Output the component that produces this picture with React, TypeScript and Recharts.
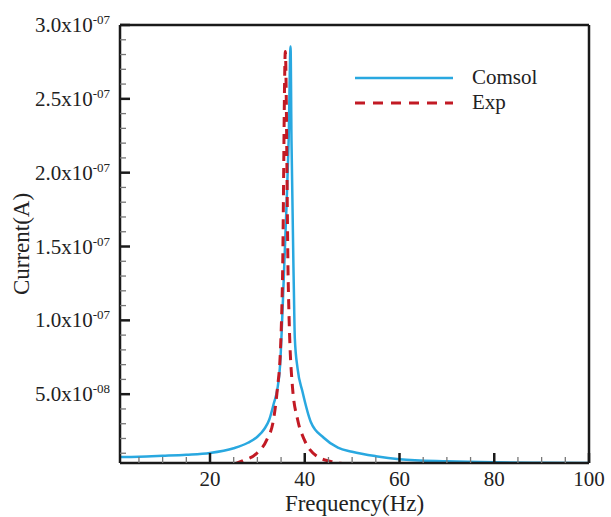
import { Label, Legend, Line, LineChart, ReferenceLine, XAxis, YAxis } from "recharts";

// Comsol simulation (frequency in Hz, current in A)
const comsolFreq = [
  1, 5, 10, 15, 20, 25, 28, 30, 31.5, 32.5, 33.5, 34.2, 34.8, 35.4, 36.2, 36.6, 37.0,
  37.2, 37.7, 37.9, 38.5, 39.5, 41.3, 44, 47, 50, 55, 60, 70, 80, 90, 100,
];
const comsolCurrent = [
  7.5e-9, 7.7e-9, 8.3e-9, 9.0e-9, 1.02e-8, 1.34e-8, 1.71e-8, 2.12e-8, 2.66e-8, 3.27e-8,
  4.42e-8, 5.3e-8, 7.0e-8, 1.14e-7, 1.82e-7, 2.22e-7, 2.854e-7, 2.22e-7, 1.21e-7, 8.8e-8,
  6.7e-8, 5.2e-8, 3.1e-8, 2.05e-8, 1.38e-8, 1.1e-8, 8.0e-9, 6.0e-9, 4.6e-9, 3.9e-9, 3.6e-9,
  3.4e-9,
];

// Experiment
const expFreq = [
  25, 27, 30, 32, 33.4, 34.2, 34.9, 35.3, 35.9, 36.5, 36.7, 37.4, 38.5, 39.9, 42.7, 45.5, 48, 50,
];
const expCurrent = [
  2.5e-9, 5.0e-9, 1.04e-8, 1.92e-8, 3.27e-8, 5.3e-8, 8.22e-8, 1.276e-7, 2.82e-7, 1.276e-7,
  1.005e-7, 5.51e-8, 3.27e-8, 1.92e-8, 7.7e-9, 4.5e-9, 3.0e-9, 2.0e-9,
];

const xMajorTicks = [20, 40, 60, 80, 100];
const xMinorStep = 5;
const yMajorTicks = [5e-8, 1e-7, 1.5e-7, 2e-7, 2.5e-7, 3e-7];
const yMantissa = ["5.0", "1.0", "1.5", "2.0", "2.5", "3.0"];
const yExponent = ["-08", "-07", "-07", "-07", "-07", "-07"];

const comsolData = comsolFreq.map((f, i) => ({ freq: f, current: comsolCurrent[i] }));
const expData = expFreq.map((f, i) => ({ freq: f, current: expCurrent[i] }));

const xTicks = Array.from({ length: 20 }, (_, i) => (i + 1) * xMinorStep);
const yTicks = Array.from({ length: 30 }, (_, i) => (i + 1) / 1e8);

const FONT = "'Liberation Serif', 'Times New Roman', serif";
const BLUE = "#29A8E0";
const RED = "#C21A24";
const AXIS = "#1a1a1a";

function XTick(props: any) {
  const { x, y, payload } = props;
  const idx = xMajorTicks.indexOf(payload.value);
  if (idx < 0) {
    return <line x1={x} x2={x} y1={y} y2={y - 6} stroke="#777" strokeWidth={1.3} />;
  }
  return (
    <g>
      <line x1={x} x2={x} y1={y} y2={y - 10} stroke={AXIS} strokeWidth={2.5} />
      <text x={x} y={y + 23} textAnchor="middle" fontFamily={FONT} fontSize={21} fill="#222">
        {payload.value}
      </text>
    </g>
  );
}

function YTick(props: any) {
  const { x, y, payload } = props;
  const idx = yMajorTicks.findIndex((t) => Math.abs(t - payload.value) < 1e-12);
  if (idx < 0) {
    return <line x1={x} x2={x + 6} y1={y} y2={y} stroke="#777" strokeWidth={1.3} />;
  }
  return (
    <g>
      <line x1={x} x2={x + 10} y1={y} y2={y} stroke={AXIS} strokeWidth={2.5} />
      <text x={x - 10} y={y + 7} textAnchor="end" fontFamily={FONT} fontSize={21} fill="#222">
        {yMantissa[idx]}x10
        <tspan dy={-8} fontSize={13}>
          {yExponent[idx]}
        </tspan>
      </text>
    </g>
  );
}

function LegendBox() {
  const row = { display: "flex", alignItems: "center", height: 25 } as const;
  const txt = { marginLeft: 17, fontFamily: FONT, fontSize: 21, color: "#222", lineHeight: "25px" };
  return (
    <div>
      <div style={row}>
        <svg width={100} height={6}>
          <line x1={0} x2={98} y1={3} y2={3} stroke={BLUE} strokeWidth={2.5} />
        </svg>
        <span style={txt}>Comsol</span>
      </div>
      <div style={row}>
        <svg width={100} height={6}>
          <line x1={0} x2={98} y1={3} y2={3} stroke={RED} strokeWidth={3} strokeDasharray="10 8" />
        </svg>
        <span style={txt}>Exp</span>
      </div>
    </div>
  );
}

export default function App() {
  return (
    <div style={{ position: "absolute", left: 0, top: 0, width: 611, height: 517, background: "#fff" }}>
      <LineChart width={611} height={517} margin={{ top: 25, right: 22, bottom: 0, left: 0 }}>
        <XAxis
          dataKey="freq"
          type="number"
          domain={[1, 100]}
          ticks={xTicks}
          interval={0}
          allowDataOverflow
          height={54}
          tickSize={0}
          tickMargin={0}
          tickLine={false}
          tick={<XTick />}
          axisLine={{ stroke: AXIS, strokeWidth: 2.5 }}
        >
          <Label
            value="Frequency(Hz)"
            position="insideBottom"
            offset={6}
            style={{ fontFamily: FONT, fontSize: 23, fill: "#222" }}
          />
        </XAxis>
        <YAxis
          type="number"
          domain={[3.4e-9, 3e-7]}
          ticks={yTicks}
          interval={0}
          allowDataOverflow
          width={120}
          tickSize={0}
          tickMargin={0}
          tickLine={false}
          tick={<YTick />}
          axisLine={{ stroke: AXIS, strokeWidth: 2.5 }}
        >
          <Label
            content={(p: any) => {
              const vb = p.viewBox || { x: 0, y: 25, width: 120, height: 438 };
              return (
                <text
                  transform={`translate(${vb.x + 29},${vb.y + vb.height / 2}) rotate(-90)`}
                  textAnchor="middle"
                  fontFamily={FONT}
                  fontSize={23}
                  fill="#222"
                >
                  Current(A)
                </text>
              );
            }}
          />
        </YAxis>
        <ReferenceLine y={3e-7} stroke={AXIS} strokeWidth={2.5} />
        <ReferenceLine x={100} stroke={AXIS} strokeWidth={2.5} />
        <Line
          data={comsolData}
          dataKey="current"
          type="monotone"
          stroke={BLUE}
          strokeWidth={2.5}
          dot={false}
          isAnimationActive={false}
        />
        <Line
          data={expData}
          dataKey="current"
          type="monotone"
          stroke={RED}
          strokeWidth={3}
          strokeDasharray="10 7"
          dot={false}
          isAnimationActive={false}
        />
        <Legend
          layout="horizontal"
          verticalAlign="middle"
          align="center"
          content={<LegendBox />}
          wrapperStyle={{ position: "absolute", left: 355, top: 65, width: "auto" }}
        />
      </LineChart>
    </div>
  );
}
